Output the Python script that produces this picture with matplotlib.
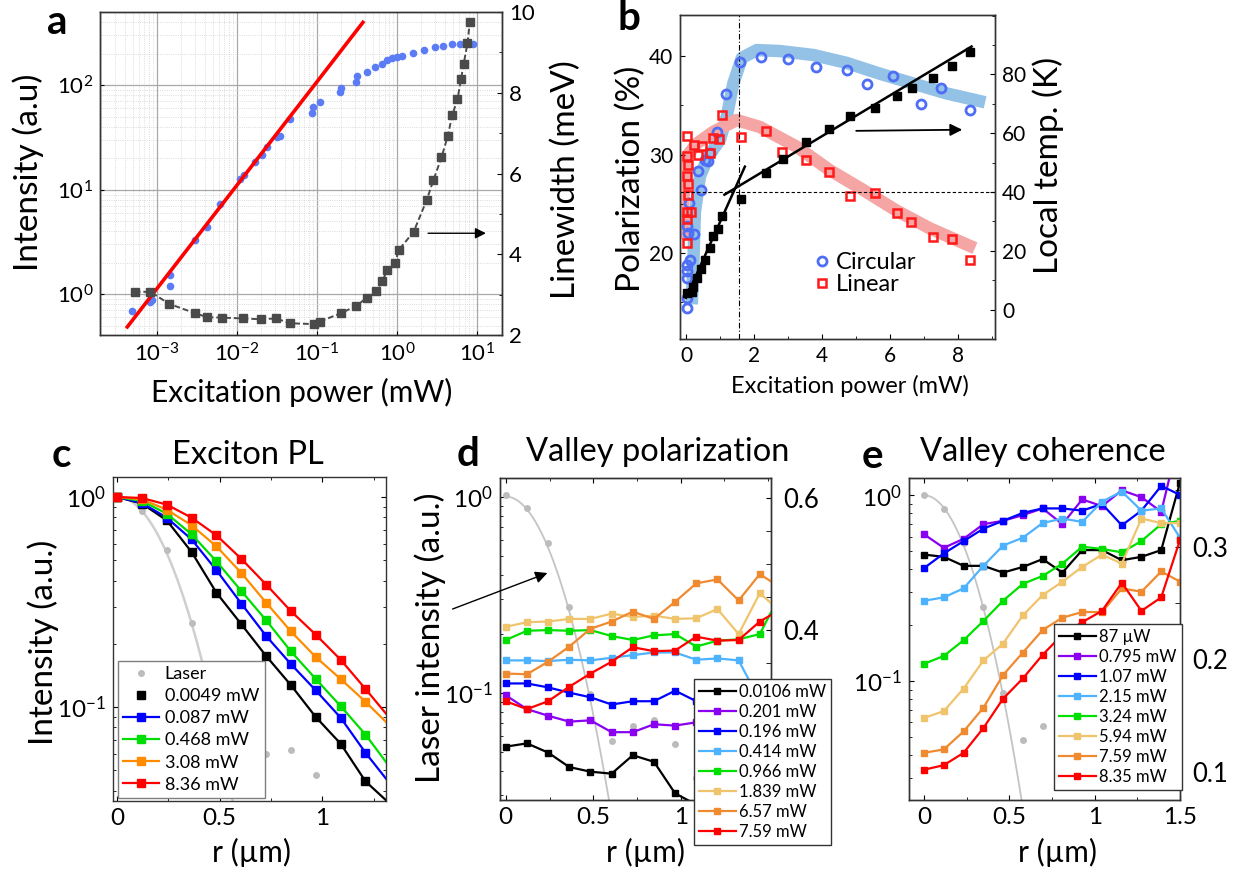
import numpy as np
import matplotlib
matplotlib.use("Agg")
import matplotlib.pyplot as plt
from matplotlib.ticker import MultipleLocator, NullFormatter, FixedLocator

# -----------------------------
# Data
# -----------------------------
# a: power dependence
a_pow_int = [4.9e-4, 8.3e-4, 8.8e-4, 1.46e-3, 1.46e-3, 3.0e-3, 4.2e-3, 6.2e-3, 0.011, 0.0123,
             0.017, 0.0205, 0.0237, 0.0316, 0.035, 0.046, 0.0867, 0.09, 0.108, 0.196,
             0.2, 0.31, 0.32, 0.42, 0.53, 0.65, 0.75, 0.87, 1.0, 1.15,
             1.6, 2.15, 3.0, 3.8, 4.9, 6.2, 7.4, 9.0]
a_int = [0.69, 0.85, 0.88, 1.2, 1.53, 3.3, 4.4, 7.3, 12.8, 13.8,
         18.5, 21.5, 25.7, 32, 33, 48, 53.6, 62, 69, 86,
         93, 107, 122, 134, 150, 158, 173, 180, 186, 189,
         204, 216, 232, 237, 250, 246, 253, 245]
a_pow_lw = [5.3e-4, 8.3e-4, 1.44e-3, 3.0e-3, 4.3e-3, 6.6e-3, 0.0121, 0.0199, 0.031, 0.0464,
            0.091, 0.108, 0.2, 0.31, 0.42, 0.55, 0.66, 0.76, 0.95, 1.05,
            1.62, 2.35, 2.86, 3.6, 4.3, 4.9, 5.7, 6.3, 6.8, 7.6, 8.1]
a_lw = [3.07, 3.07, 2.77, 2.54, 2.44, 2.43, 2.41, 2.39, 2.41, 2.29,
        2.27, 2.33, 2.54, 2.72, 2.92, 3.09, 3.34, 3.62, 3.79, 4.10,
        4.56, 5.34, 5.84, 6.40, 6.92, 7.44, 7.84, 8.33, 8.71, 9.22, 9.74]
a_fit_range = [4.3e-4, 0.376]
a_fit_slope = 0.99
a_fit_pref = 1050

# b: polarization and local temperature
circ_p = [0.04, 0.04, 0.04, 0.04, 0.04, 0.12, 0.04, 0.07, 0.235, 0.09, 0.36, 0.43, 0.56, 0.66,
          0.71, 0.92, 1.17, 1.59, 2.19, 3.01, 3.82, 4.72, 5.33, 6.09, 6.9, 7.49, 8.36]
circ_pol = [14.4, 15.4, 17.5, 18.2, 18.8, 19.3, 22.7, 22.0, 21.9, 25.1, 28.3, 26.4, 29.4, 29.3,
            30.2, 32.3, 36.1, 39.4, 39.9, 39.7, 38.9, 38.6, 37.2, 38.0, 35.1, 36.8, 34.5]
lin_p = [0.04, 0.02, 0.07, 0.04, 0.07, 0.07, 0.15, 0.02, 0.02, 0.02, 0.235, 0.36, 0.46, 0.71,
         0.80, 0.97, 1.07, 1.62, 2.35, 2.83, 3.53, 4.20, 4.82, 5.55, 6.19, 6.61, 7.27, 7.81, 8.36]
lin_pol = [31.9, 29.9, 28.9, 27.8, 27.0, 25.9, 24.2, 24.2, 23.5, 21.0, 31.0, 30.0, 30.9, 30.2,
           31.7, 31.6, 34.0, 31.8, 32.4, 30.3, 29.4, 28.2, 25.8, 26.1, 24.1, 23.2, 21.6, 21.4, 19.3]
temp_p = [0.02, 0.17, 0.22, 0.33, 0.43, 0.56, 0.70, 0.80, 0.95, 1.07, 1.61,
          2.35, 2.84, 3.53, 4.21, 4.82, 5.55, 6.19, 6.63, 7.27, 7.81, 8.34]
temp_K = [5.7, 5.9, 7.7, 10.8, 13.8, 16.8, 21.0, 24.9, 27.4, 31.9, 37.7,
          46.4, 51.3, 57.0, 61.4, 65.7, 68.5, 72.5, 75.3, 78.9, 82.7, 87.5]
circ_guide_p = [0.17, 0.215, 0.26, 0.41, 0.66, 1.0, 1.2, 1.39, 1.64, 2.08, 2.76, 3.74, 4.72, 5.7, 6.68, 7.66, 8.79]
circ_guide = [14.8, 18.8, 24.1, 27.8, 29.8, 31.5, 33.9, 37.2, 39.8, 40.6, 40.5, 40.1, 39.3, 38.2, 37.2, 36.2, 35.3]
lin_guide_p = [-0.08, -0.08, 0.02, 0.31, 0.8, 1.49, 2.17, 3.25, 4.23, 5.21, 6.19, 7.17, 8.49]
lin_guide = [21.4, 25.4, 29.8, 31.1, 32.3, 33.5, 32.8, 30.8, 28.4, 26.4, 24.3, 22.5, 20.5]
# two linear fits of the local temperature: (offset, slope, p_start, p_end)
temp_fit1 = (4.0, 25.8, 0.0, 1.73)
temp_fit2 = (31.26, 6.94, 1.13, 8.39)
p_threshold = 1.55
T_threshold = 40

# c: exciton PL profiles (last r is where the curves leave the frame)
c_r = [0, 0.121, 0.242, 0.363, 0.484, 0.605, 0.726, 0.847, 0.968, 1.089, 1.21, 1.31]
c_laser_r = [0, 0.121, 0.242, 0.363, 0.726, 0.847, 0.968]
c_laser = [1.0, 0.855, 0.561, 0.252, 0.0595, 0.0626, 0.0473]
c_0049 = [1.0, 0.93, 0.774, 0.547, 0.35, 0.248, 0.175, 0.127, 0.0896, 0.0669, 0.0443, 0.036]
c_087 = [1.0, 0.936, 0.797, 0.628, 0.448, 0.311, 0.218, 0.16, 0.12, 0.089, 0.0606, 0.0456]
c_468 = [1.0, 0.957, 0.833, 0.664, 0.494, 0.357, 0.259, 0.184, 0.136, 0.101, 0.074, 0.0547]
c_308 = [1.0, 0.975, 0.87, 0.733, 0.582, 0.435, 0.314, 0.229, 0.173, 0.136, 0.106, 0.0849]
c_836 = [1.0, 0.989, 0.92, 0.797, 0.657, 0.508, 0.383, 0.286, 0.221, 0.168, 0.122, 0.093]
c_labels = ["0.087 mW", "0.468 mW", "3.08 mW", "8.36 mW"]
c_sigma = 0.218

# d: valley polarization (last r is the frame edge)
d_r = [0, 0.121, 0.242, 0.363, 0.484, 0.605, 0.726, 0.847, 0.968, 1.089, 1.21, 1.331, 1.452, 1.516]
d_laser_r = [0, 0.121, 0.242, 0.363, 0.484, 0.605, 0.726, 0.847, 0.968, 1.089]
d_laser = [1.02, 0.872, 0.582, 0.275, 0.0984, 0.0569, 0.0676, 0.0726, 0.0547, 0.0368]
d_0106 = [0.223, 0.228, 0.214, 0.192, 0.185, 0.182, 0.210, 0.200, 0.152, 0.135]
d_201 = [0.301, 0.280, 0.270, 0.261, 0.263, 0.245, 0.245, 0.257, 0.255, 0.260]
d_196 = [0.319, 0.319, 0.313, 0.305, 0.298, 0.287, 0.292, 0.292, 0.308, 0.292]
d_414 = [0.354, 0.354, 0.353, 0.355, 0.354, 0.358, 0.362, 0.366, 0.366, 0.355, 0.357, 0.354, 0.293]
d_966 = [0.385, 0.399, 0.400, 0.399, 0.400, 0.391, 0.385, 0.392, 0.394, 0.375, 0.384, 0.386, 0.394, 0.427]
d_1839 = [0.405, 0.412, 0.413, 0.417, 0.417, 0.425, 0.420, 0.422, 0.417, 0.418, 0.432, 0.394, 0.456, 0.441]
d_657 = [0.334, 0.333, 0.352, 0.375, 0.402, 0.413, 0.428, 0.417, 0.443, 0.471, 0.477, 0.445, 0.485, 0.474]
d_759 = [0.292, 0.280, 0.292, 0.314, 0.334, 0.352, 0.374, 0.368, 0.369, 0.390, 0.384, 0.385, 0.413, 0.423]
d_labels = ["0.0106 mW", "0.201 mW", "0.196 mW", "0.414 mW", "0.966 mW", "1.839 mW", "6.57 mW", "7.59 mW"]
d_sigma = 0.221

# e: valley coherence
e_r = [0, 0.116, 0.232, 0.348, 0.463, 0.579, 0.695, 0.811, 0.927, 1.043, 1.159, 1.274, 1.39, 1.5]
e_laser_r = [0, 0.116, 0.232, 0.348, 0.463, 0.579, 0.695]
e_laser = [1.0, 0.848, 0.557, 0.249, 0.0859, 0.0482, 0.0575]
e_087 = [0.293, 0.291, 0.283, 0.283, 0.277, 0.282, 0.289, 0.277, 0.297, 0.297, 0.288, 0.291, 0.297, 0.357]
e_795 = [0.311, 0.299, 0.307, 0.320, 0.323, 0.328, 0.334, 0.320, 0.342, 0.336, 0.350, 0.344, 0.331, 0.400]
e_107 = [0.281, 0.294, 0.305, 0.316, 0.323, 0.330, 0.334, 0.334, 0.332, 0.338, 0.319, 0.332, 0.354, 0.346]
e_215 = [0.252, 0.255, 0.263, 0.283, 0.301, 0.308, 0.321, 0.325, 0.322, 0.340, 0.349, 0.332, 0.334, 0.308]
e_324 = [0.196, 0.203, 0.217, 0.234, 0.252, 0.267, 0.274, 0.285, 0.300, 0.298, 0.295, 0.305, 0.320, 0.323]
e_594 = [0.148, 0.154, 0.174, 0.199, 0.214, 0.239, 0.257, 0.269, 0.282, 0.293, 0.285, 0.325, 0.321, 0.321]
e_759 = [0.117, 0.120, 0.136, 0.157, 0.186, 0.206, 0.226, 0.237, 0.242, 0.242, 0.263, 0.260, 0.278, 0.269]
e_835 = [0.102, 0.106, 0.117, 0.139, 0.165, 0.183, 0.204, 0.222, 0.233, 0.243, 0.268, 0.243, 0.255, 0.306]
e_labels = ["87 µW", "0.795 mW", "1.07 mW", "2.15 mW", "3.24 mW", "5.94 mW", "7.59 mW", "8.35 mW"]
e_sigma = 0.208

# -----------------------------
# Style
# -----------------------------
plt.rcParams['font.family'] = ['Lato', 'DejaVu Sans']
plt.rcParams['mathtext.fontset'] = 'custom'
plt.rcParams['mathtext.rm'] = 'Lato'
plt.rcParams['mathtext.it'] = 'Lato:italic'
plt.rcParams['mathtext.bf'] = 'Lato:bold'
plt.rcParams['axes.linewidth'] = 1.0
plt.rcParams['axes.edgecolor'] = '#333333'

SIX = ['#000000', '#8a00f0', '#0000ff', '#4db3ff', '#00e000', '#f0c46c', '#f08a30', '#ff0000']
LASER_PT = '#bcbcbc'
LASER_LN = '#cfcfcf'
LETTER = 29
TITLE = 23.5
YLAB = 24
TICK_A = 16
TICK_B = 15
TICK_R = 17.5

W, H = 1247, 873
fig = plt.figure(figsize=(W / 100, H / 100), dpi=100)


def add_ax(l, t, r, b):
    return fig.add_axes([l / W, 1 - b / H, (r - l) / W, (b - t) / H])


def ftext(x, y, s, **kw):
    fig.text(x / W, 1 - y / H, s, ha='center', va='center', **kw)


def gauss(r, s):
    return np.exp(-r ** 2 / (2 * s ** 2))


# -----------------------------
# a
# -----------------------------
axa = add_ax(100, 12, 502, 335)
axa.set_xscale('log')
axa.set_yscale('log')
axa.set_xlim(1.96e-4, 20.5)
axa.set_ylim(0.408, 501)
axa.set_axisbelow(True)
axa.grid(True, which='major', color='#a8a8a8', lw=0.9)
axa.grid(True, which='minor', color='#d0d0d0', lw=0.6, ls=':')
axa.plot(a_pow_int, a_int, 'o', color='#5b7cf5', ms=5.5, mec='none', zorder=3)
fx = np.array(a_fit_range)
axa.plot(fx, a_fit_pref * fx ** a_fit_slope, color='red', lw=2.6, zorder=4)
axa.tick_params(which='both', direction='in', labelsize=TICK_A, pad=5)
axa.tick_params(which='minor', length=0)
axa.tick_params(which='major', length=3)
axa.yaxis.set_minor_formatter(NullFormatter())

axa2 = axa.twinx()
axa2.set_ylim(2, 10)
axa2.plot(a_pow_lw, a_lw, 's', ls='--', dashes=(3, 1.5), color='#4a4a4a', ms=6, lw=1.4)
axa2.set_yticks([2, 4, 6, 8, 10])
axa2.yaxis.set_minor_locator(MultipleLocator(1))
axa2.tick_params(which='both', direction='in', labelsize=TICK_A, pad=5)
axa2.annotate('', xy=(14, 4.52), xytext=(2.26, 4.52),
              arrowprops=dict(arrowstyle='-|>', color='black', lw=1, mutation_scale=16))

ftext(57, 22, 'a', fontsize=LETTER, fontweight='bold')
ftext(302, 392, 'Excitation power (mW)', fontsize=21.5)
ftext(28, 172, 'Intensity (a.u)', fontsize=YLAB, rotation=90)
ftext(566, 180, 'Linewidth (meV)', fontsize=YLAB, rotation=90)

# -----------------------------
# b
# -----------------------------
axb = add_ax(680, 15, 995, 339)
axb.set_xlim(-0.176, 9.08)
axb.set_ylim(11.28, 44.16)
axb.plot(circ_guide_p, circ_guide, color='#93c2e6', lw=9, solid_capstyle='butt',
         solid_joinstyle='round', zorder=1)
axb.plot(lin_guide_p, lin_guide, color='#f6a5a5', lw=9, solid_capstyle='butt',
         solid_joinstyle='round', zorder=1)
h_circ, = axb.plot(circ_p, circ_pol, 'o', mfc='none', mec='#4d6ef5', mew=2, ms=6.5, zorder=3)
h_lin, = axb.plot(lin_p, lin_pol, 's', mfc='none', mec='#ff1a1a', mew=1.8, ms=6, zorder=3)
axb.axvline(p_threshold, color='black', lw=0.8, ls=(0, (5, 2, 1, 2)))
axb.set_xticks([0, 2, 4, 6, 8])
axb.xaxis.set_minor_locator(MultipleLocator(1))
axb.set_yticks([20, 30, 40])
axb.yaxis.set_minor_locator(MultipleLocator(5))
axb.tick_params(which='both', direction='in', labelsize=TICK_B, pad=5)
axb.legend([h_circ, h_lin], ['Circular', 'Linear'], loc='upper left', frameon=False,
           bbox_to_anchor=(810 / W, 1 - 252 / H), bbox_transform=fig.transFigure,
           borderaxespad=0, borderpad=0, handletextpad=0.1, handlelength=1.0,
           labelspacing=0.05, fontsize=17)

axb2 = axb.twinx()
axb2.set_ylim(-9.97, 100.2)
for off, slope, p0, p1 in (temp_fit1, temp_fit2):
    px = np.array([p0, p1])
    axb2.plot(px, off + slope * px, color='black', lw=1.8)
axb2.plot(temp_p, temp_K, 's', color='black', ms=6)
axb2.axhline(T_threshold, color='black', lw=0.8, ls=(0, (3, 2)))
axb2.set_yticks([0, 20, 40, 60, 80])
axb2.yaxis.set_minor_locator(MultipleLocator(10))
axb2.tick_params(which='both', direction='in', labelsize=TICK_B, pad=5)
axb2.annotate('', xy=(8.2, 61.2), xytext=(4.92, 60.8),
              arrowprops=dict(arrowstyle='-|>', color='black', lw=1.3, mutation_scale=18))

ftext(629, 18, 'b', fontsize=LETTER, fontweight='bold')
ftext(850, 386, 'Excitation power (mW)', fontsize=17)
ftext(631, 179, 'Polarization (%)', fontsize=YLAB, rotation=90)
ftext(1048, 165, 'Local temp. (K)', fontsize=YLAB, rotation=90)

# -----------------------------
# c
# -----------------------------
axc = add_ax(113, 477, 386, 801)
axc.set_yscale('log')
axc.set_xlim(-0.02, 1.31)
axc.set_ylim(0.0357, 1.245)
rr = np.linspace(0, 0.7, 120)
axc.plot(rr, gauss(rr, c_sigma), color=LASER_LN, lw=1.8, zorder=1)
h_las, = axc.plot(c_laser_r, c_laser, 'o', color=LASER_PT, ms=5, mec='none', zorder=2)
n = len(c_r) - 1
axc.plot(c_r, c_0049, color='black', lw=1.6, zorder=3)
h_blk, = axc.plot(c_r[:n], c_0049[:n], 's', color='black', ms=5.5, zorder=3, ls='none')
hs = []
for vals, col in zip([c_087, c_468, c_308, c_836], ['#0000ff', '#00dd00', '#ff8c00', '#ff0000']):
    h, = axc.plot(c_r, vals, '-s', color=col, ms=5.5, lw=1.6, markevery=range(n), zorder=3)
    hs.append(h)
axc.legend([h_las, h_blk] + hs, ['Laser', '0.0049 mW'] + c_labels, loc='lower left',
           bbox_to_anchor=(0.018, 0.009), borderaxespad=0, fancybox=False,
           edgecolor='#7f7f7f', framealpha=1, fontsize=13, handlelength=2.0,
           handletextpad=0.3, labelspacing=0.34, borderpad=0.3)
axc.xaxis.set_major_locator(FixedLocator([0, 0.5, 1]))
axc.xaxis.set_minor_locator(MultipleLocator(0.25))
axc.yaxis.set_minor_formatter(NullFormatter())
axc.tick_params(which='both', direction='in', top=True, right=True, labelsize=TICK_R, pad=5)
axc.set_xticklabels(['0', '0.5', '1'])

ftext(61, 455, 'c', fontsize=LETTER, fontweight='bold')
ftext(248, 455, 'Exciton PL', fontsize=TITLE)
ftext(252, 852, 'r (µm)', fontsize=21.5)
ftext(43, 642, 'Intensity (a.u.)', fontsize=YLAB, rotation=90)

# -----------------------------
# d
# -----------------------------
axd = add_ax(500, 478, 771, 800)
axd.set_yscale('log')
axd.set_xlim(-0.033, 1.516)
axd.set_ylim(10 ** -1.547, 10 ** 0.095)
rr = np.linspace(0, 0.7, 120)
axd.plot(rr, gauss(rr, d_sigma), color='#c4c4c4', lw=1.3, zorder=1)
axd.plot(d_laser_r, d_laser, 'o', color=LASER_PT, ms=5, mec='none', zorder=2)
axd.xaxis.set_major_locator(FixedLocator([0, 0.5, 1]))
axd.xaxis.set_minor_locator(MultipleLocator(0.25))
axd.set_xticklabels(['0', '0.5', '1'])
axd.yaxis.set_minor_formatter(NullFormatter())
axd.tick_params(which='both', direction='in', top=True, labelsize=TICK_R, pad=5)

axd2 = axd.twinx()
axd2.set_ylim(0.142, 0.631)
hd = []
for vals, col in zip([d_0106, d_201, d_196, d_414, d_966, d_1839, d_657, d_759], SIX):
    k = len(vals)
    mk = range(k - 1) if k == len(d_r) else range(k)
    h, = axd2.plot(d_r[:k], vals, '-s', color=col, ms=5, lw=1.6, markevery=mk)
    hd.append(h)
axd2.set_yticks([0.2, 0.4, 0.6])
axd2.set_yticklabels(['', '0.4', '0.6'])  # 0.2 sits behind the legend
axd2.yaxis.set_minor_locator(MultipleLocator(0.05))
axd2.tick_params(which='both', direction='in', labelsize=TICK_R + 1, pad=9, length=3.5)
axd2.legend(hd, d_labels, loc='upper left', bbox_to_anchor=(694 / W, 1 - 679 / H),
            bbox_transform=fig.transFigure, borderaxespad=0, fancybox=False,
            edgecolor='#333333', framealpha=1, fontsize=12, handlelength=2.2,
            handletextpad=0.2, labelspacing=0.24, borderpad=0.3)
axd2.annotate('', xy=(550 / W, 1 - 572 / H), xycoords='figure fraction',
              xytext=(450 / W, 1 - 610 / H), textcoords='figure fraction',
              arrowprops=dict(arrowstyle='-|>', color='black', lw=1, mutation_scale=18))

ftext(468, 454, 'd', fontsize=LETTER, fontweight='bold')
ftext(658, 452, 'Valley polarization', fontsize=TITLE)
ftext(645, 852, 'r (µm)', fontsize=21.5)
ftext(430, 638, 'Laser intensity (a.u.)', fontsize=YLAB, rotation=90)

# -----------------------------
# e
# -----------------------------
axe = add_ax(909, 478, 1180, 800)
axe.set_yscale('log')
axe.set_xlim(-0.088, 1.5)
axe.set_ylim(10 ** -1.64, 10 ** 0.093)
rr = np.linspace(0, 0.7, 120)
axe.plot(rr, gauss(rr, e_sigma), color='#c4c4c4', lw=1.3, zorder=1)
axe.plot(e_laser_r, e_laser, 'o', color=LASER_PT, ms=5, mec='none', zorder=2)
axe.xaxis.set_major_locator(FixedLocator([0, 0.5, 1, 1.5]))
axe.xaxis.set_minor_locator(MultipleLocator(0.25))
axe.set_xticklabels(['0', '0.5', '1', '1.5'])
axe.yaxis.set_minor_formatter(NullFormatter())
axe.tick_params(which='both', direction='in', top=True, labelsize=TICK_R, pad=5)

axe2 = axe.twinx()
axe2.set_ylim(0.0751, 0.361)
he = []
for vals, col in zip([e_087, e_795, e_107, e_215, e_324, e_594, e_759, e_835], SIX):
    h, = axe2.plot(e_r, vals, '-s', color=col, ms=5, lw=1.6)
    he.append(h)
axe2.set_yticks([0.1, 0.2, 0.3])
axe2.yaxis.set_minor_locator(MultipleLocator(0.05))
axe2.tick_params(which='both', direction='in', labelsize=TICK_R + 1, pad=9, length=3.5)
axe2.legend(he, e_labels, loc='upper left', bbox_to_anchor=(1054 / W, 1 - 624 / H),
            bbox_transform=fig.transFigure, borderaxespad=0, fancybox=False,
            edgecolor='#333333', framealpha=1, fontsize=12, handlelength=2.2,
            handletextpad=0.2, labelspacing=0.24, borderpad=0.3)

ftext(872, 457, 'e', fontsize=LETTER, fontweight='bold')
ftext(1043, 452, 'Valley coherence', fontsize=TITLE)
ftext(1058, 852, 'r (µm)', fontsize=21.5)

fig.savefig('out.png', dpi=100)
